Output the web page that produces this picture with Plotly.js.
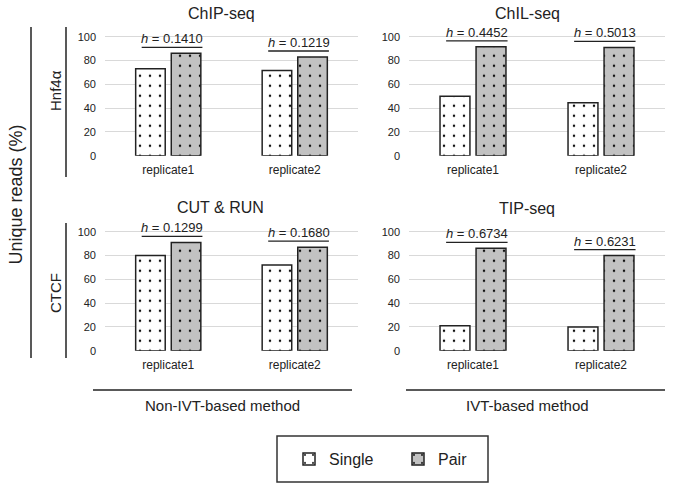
<!DOCTYPE html>
<html>
<head>
<meta charset="utf-8">
<script src="https://cdn.plot.ly/plotly-3.0.1.min.js"></script>
<style>html,body{margin:0;padding:0;background:#fff;}#chart{width:673px;height:489px;}</style>
</head>
<body>
<div id="chart"></div>
<script>
// ---- data ----
var categories = ["replicate1", "replicate2"];
var panelTitles = ["ChIP-seq", "ChIL-seq", "CUT & RUN", "TIP-seq"];
var singleValues = [
  [73, 71.5],   // ChIP-seq
  [50, 44.5],   // ChIL-seq
  [80, 72],     // CUT & RUN
  [21, 20]      // TIP-seq
];
var pairValues = [
  [86, 83],
  [91.5, 91],
  [91, 87],
  [86, 80]
];
var hValues = [
  ["0.1410", "0.1219"],
  ["0.4452", "0.5013"],
  ["0.1299", "0.1680"],
  ["0.6734", "0.6231"]
];
var rowLabels = ["Hnf4\u03b1", "CTCF"];
var groupLabels = ["Non-IVT-based method", "IVT-based method"];
var yTicks = [0, 20, 40, 60, 80, 100];
var seriesNames = ["Single", "Pair"];

// ---- layout helpers ----
var W = 673, H = 489;
function px(x) { return x / W; }
function py(y) { return 1 - y / H; }
var FONT = "Liberation Sans, Arial, Helvetica, sans-serif";
var INK = "#222";

var xDomains = [[105 / W, 358 / W], [409 / W, 665 / W]];
var yDomains = [[py(155.7), py(30.75)], [py(350.7), py(225.75)]];

var traces = [];
var layout = {
  width: W, height: H,
  margin: {l: 0, r: 0, t: 0, b: 0},
  paper_bgcolor: "#fff", plot_bgcolor: "#fff",
  font: {family: FONT, color: INK},
  barmode: "group",
  bargap: 0.437,
  bargroupgap: 0.17,
  showlegend: true,
  legend: {
    orientation: "h",
    x: px(398), xanchor: "center",
    y: py(459), yanchor: "middle",
    borderwidth: 0, bgcolor: "rgba(0,0,0,0)",
    font: {size: 16, family: FONT, color: INK},
    entrywidth: 64
  },
  annotations: [],
  shapes: []
};

var fills = ["#ffffff", "#c2c2c2"];
for (var p = 0; p < 4; p++) {
  var col = p % 2, row = Math.floor(p / 2);
  var sfx = p === 0 ? "" : String(p + 1);
  var xa = "x" + sfx, ya = "y" + sfx;
  layout["xaxis" + sfx] = {
    domain: xDomains[col], anchor: ya,
    type: "category", categoryarray: categories,
    showgrid: false, zeroline: false, showline: false, ticks: "",
    tickfont: {size: 12, family: FONT, color: INK},
    ticklabelstandoff: 5, fixedrange: true
  };
  layout["yaxis" + sfx] = {
    domain: yDomains[row], anchor: xa,
    range: [0, 105], tickvals: yTicks,
    showgrid: true, gridcolor: "#d9d9d9", gridwidth: 1,
    zeroline: false, showline: false, ticks: "",
    tickfont: {size: 11, family: FONT, color: INK},
    ticklabelstandoff: 8, fixedrange: true
  };
  var vals = [singleValues[p], pairValues[p]];
  for (var s = 0; s < 2; s++) {
    traces.push({
      type: "bar", name: seriesNames[s], x: categories, y: vals[s],
      xaxis: xa, yaxis: ya, legendgroup: seriesNames[s], showlegend: p === 0,
      marker: {color: fills[s], line: {color: INK, width: 1.5},
               pattern: {shape: ".", fgcolor: "#111", bgcolor: fills[s], fillmode: "replace",
                         size: 10, solidity: 0.05}},
      hoverinfo: "skip"
    });
  }
  // h annotations
  for (var i = 0; i < categories.length; i++) {
    var ly = pairValues[p][i] + 5;
    layout.shapes.push({type: "line", xref: xa, yref: ya,
      x0: i - 0.21, x1: i + 0.27, y0: ly, y1: ly,
      line: {color: INK, width: 1.3}});
    layout.annotations.push({xref: xa, yref: ya, x: i + 0.03, y: ly,
      yanchor: "bottom", xanchor: "center", showarrow: false, yshift: -1,
      text: "<i>h</i> = " + hValues[p][i],
      font: {size: 13, family: FONT, color: INK}});
  }
}

// panel titles
var titlePos = [[221, 13], [527, 13], [220, 207], [527, 208]];
for (var t = 0; t < 4; t++) {
  layout.annotations.push({xref: "paper", yref: "paper",
    x: px(titlePos[t][0]), y: py(titlePos[t][1]), xanchor: "center", yanchor: "middle",
    showarrow: false, text: panelTitles[t], font: {size: 16, family: FONT, color: INK}});
}
// row labels
var rowY = [91, 293];
for (var r = 0; r < 2; r++) {
  layout.annotations.push({xref: "paper", yref: "paper",
    x: px(55), y: py(rowY[r]), xanchor: "center", yanchor: "middle", textangle: -90,
    showarrow: false, text: rowLabels[r], font: {size: 15, family: FONT, color: INK}});
}
layout.annotations.push({xref: "paper", yref: "paper",
  x: px(15), y: py(194.5), xanchor: "center", yanchor: "middle", textangle: -90,
  showarrow: false, text: "Unique reads (%)", font: {size: 18, family: FONT, color: INK}});
// group labels
var groupX = [222, 527];
for (var g = 0; g < 2; g++) {
  layout.annotations.push({xref: "paper", yref: "paper",
    x: px(groupX[g]), y: py(405), xanchor: "center", yanchor: "middle",
    showarrow: false, text: groupLabels[g], font: {size: 15, family: FONT, color: INK}});
}
// bracket lines
function pline(x0, y0, x1, y1) {
  layout.shapes.push({type: "line", xref: "paper", yref: "paper",
    x0: px(x0), y0: py(y0), x1: px(x1), y1: py(y1), line: {color: INK, width: 1.5}});
}
pline(31, 27, 31, 358);
pline(66, 27, 66, 177);
pline(66, 223, 66, 358);
pline(93, 390, 352, 390);
pline(406, 390, 665, 390);
// legend frame
layout.shapes.push({type: "rect", xref: "paper", yref: "paper",
  x0: px(277), y0: py(436), x1: px(488), y1: py(482),
  line: {color: "#333", width: 1.5}, fillcolor: "rgba(0,0,0,0)"});

Plotly.newPlot("chart", traces, layout, {staticPlot: true, displayModeBar: false});
</script>
</body>
</html>
